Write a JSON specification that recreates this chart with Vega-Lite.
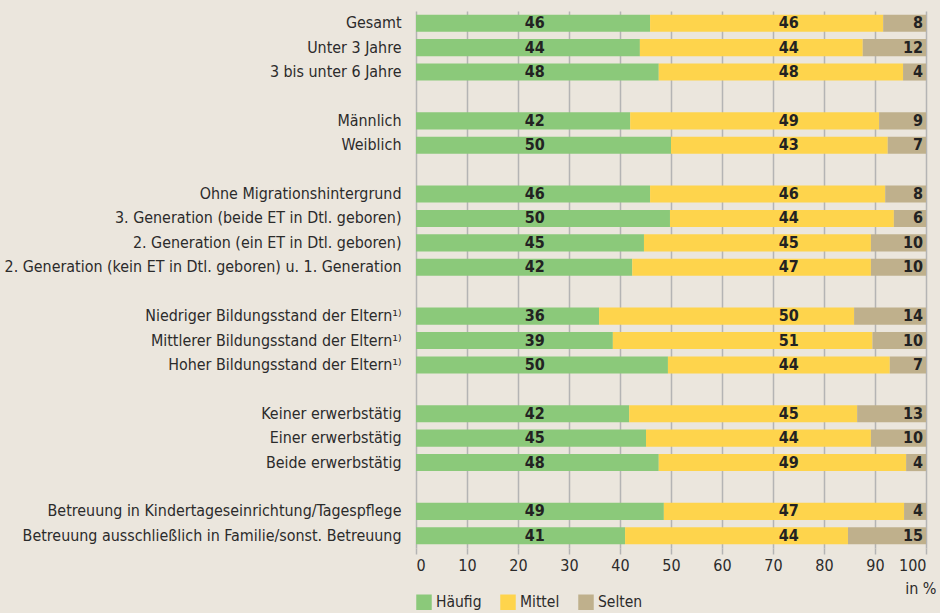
{
  "$schema": "https://vega.github.io/schema/vega-lite/v6.json",
  "width": 510,
  "height": 537,
  "autosize": {"type": "none"},
  "padding": {"left": 416, "top": 11, "right": 14, "bottom": 65},
  "background": "#ebe6dd",
  "config": {
    "view": {"stroke": null},
    "font": "DejaVu Sans Condensed, Noto Sans",
    "axis": {"labelFont": "DejaVu Sans Condensed, Noto Sans", "labelColor": "#2b2b2b", "labelFontSize": 16}
  },
  "data": {
    "values": [
      {"cat": "Gesamt", "typ": "Häufig", "v": 45.9, "lab": 46},
      {"cat": "Gesamt", "typ": "Mittel", "v": 45.7, "lab": 46},
      {"cat": "Gesamt", "typ": "Selten", "v": 8.4, "lab": 8},
      {"cat": "Unter 3 Jahre", "typ": "Häufig", "v": 43.9, "lab": 44},
      {"cat": "Unter 3 Jahre", "typ": "Mittel", "v": 43.7, "lab": 44},
      {"cat": "Unter 3 Jahre", "typ": "Selten", "v": 12.4, "lab": 12},
      {"cat": "3 bis unter 6 Jahre", "typ": "Häufig", "v": 47.6, "lab": 48},
      {"cat": "3 bis unter 6 Jahre", "typ": "Mittel", "v": 47.9, "lab": 48},
      {"cat": "3 bis unter 6 Jahre", "typ": "Selten", "v": 4.5, "lab": 4},
      {"cat": "Männlich", "typ": "Häufig", "v": 42.0, "lab": 42},
      {"cat": "Männlich", "typ": "Mittel", "v": 48.8, "lab": 49},
      {"cat": "Männlich", "typ": "Selten", "v": 9.2, "lab": 9},
      {"cat": "Weiblich", "typ": "Häufig", "v": 50.0, "lab": 50},
      {"cat": "Weiblich", "typ": "Mittel", "v": 42.5, "lab": 43},
      {"cat": "Weiblich", "typ": "Selten", "v": 7.5, "lab": 7},
      {"cat": "Ohne Migrationshintergrund", "typ": "Häufig", "v": 45.9, "lab": 46},
      {"cat": "Ohne Migrationshintergrund", "typ": "Mittel", "v": 46.1, "lab": 46},
      {"cat": "Ohne Migrationshintergrund", "typ": "Selten", "v": 8.0, "lab": 8},
      {"cat": "3. Generation (beide ET in Dtl. geboren)", "typ": "Häufig", "v": 49.8, "lab": 50},
      {"cat": "3. Generation (beide ET in Dtl. geboren)", "typ": "Mittel", "v": 43.9, "lab": 44},
      {"cat": "3. Generation (beide ET in Dtl. geboren)", "typ": "Selten", "v": 6.3, "lab": 6},
      {"cat": "2. Generation (ein ET in Dtl. geboren)", "typ": "Häufig", "v": 44.7, "lab": 45},
      {"cat": "2. Generation (ein ET in Dtl. geboren)", "typ": "Mittel", "v": 44.5, "lab": 45},
      {"cat": "2. Generation (ein ET in Dtl. geboren)", "typ": "Selten", "v": 10.8, "lab": 10},
      {"cat": "2. Generation (kein ET in Dtl. geboren) u. 1. Generation", "typ": "Häufig", "v": 42.4, "lab": 42},
      {"cat": "2. Generation (kein ET in Dtl. geboren) u. 1. Generation", "typ": "Mittel", "v": 46.8, "lab": 47},
      {"cat": "2. Generation (kein ET in Dtl. geboren) u. 1. Generation", "typ": "Selten", "v": 10.8, "lab": 10},
      {"cat": "Niedriger Bildungsstand der Eltern¹⁾", "typ": "Häufig", "v": 35.9, "lab": 36},
      {"cat": "Niedriger Bildungsstand der Eltern¹⁾", "typ": "Mittel", "v": 50.0, "lab": 50},
      {"cat": "Niedriger Bildungsstand der Eltern¹⁾", "typ": "Selten", "v": 14.1, "lab": 14},
      {"cat": "Mittlerer Bildungsstand der Eltern¹⁾", "typ": "Häufig", "v": 38.6, "lab": 39},
      {"cat": "Mittlerer Bildungsstand der Eltern¹⁾", "typ": "Mittel", "v": 50.9, "lab": 51},
      {"cat": "Mittlerer Bildungsstand der Eltern¹⁾", "typ": "Selten", "v": 10.5, "lab": 10},
      {"cat": "Hoher Bildungsstand der Eltern¹⁾", "typ": "Häufig", "v": 49.4, "lab": 50},
      {"cat": "Hoher Bildungsstand der Eltern¹⁾", "typ": "Mittel", "v": 43.5, "lab": 44},
      {"cat": "Hoher Bildungsstand der Eltern¹⁾", "typ": "Selten", "v": 7.1, "lab": 7},
      {"cat": "Keiner erwerbstätig", "typ": "Häufig", "v": 41.8, "lab": 42},
      {"cat": "Keiner erwerbstätig", "typ": "Mittel", "v": 44.7, "lab": 45},
      {"cat": "Keiner erwerbstätig", "typ": "Selten", "v": 13.5, "lab": 13},
      {"cat": "Einer erwerbstätig", "typ": "Häufig", "v": 45.1, "lab": 45},
      {"cat": "Einer erwerbstätig", "typ": "Mittel", "v": 44.1, "lab": 44},
      {"cat": "Einer erwerbstätig", "typ": "Selten", "v": 10.8, "lab": 10},
      {"cat": "Beide erwerbstätig", "typ": "Häufig", "v": 47.6, "lab": 48},
      {"cat": "Beide erwerbstätig", "typ": "Mittel", "v": 48.5, "lab": 49},
      {"cat": "Beide erwerbstätig", "typ": "Selten", "v": 3.9, "lab": 4},
      {"cat": "Betreuung in Kindertageseinrichtung/Tagespflege", "typ": "Häufig", "v": 48.6, "lab": 49},
      {"cat": "Betreuung in Kindertageseinrichtung/Tagespflege", "typ": "Mittel", "v": 47.1, "lab": 47},
      {"cat": "Betreuung in Kindertageseinrichtung/Tagespflege", "typ": "Selten", "v": 4.3, "lab": 4},
      {"cat": "Betreuung ausschließlich in Familie/sonst. Betreuung", "typ": "Häufig", "v": 41.0, "lab": 41},
      {"cat": "Betreuung ausschließlich in Familie/sonst. Betreuung", "typ": "Mittel", "v": 43.7, "lab": 44},
      {"cat": "Betreuung ausschließlich in Familie/sonst. Betreuung", "typ": "Selten", "v": 15.3, "lab": 15}
    ]
  },
  "encoding": {
    "y": {
      "field": "cat",
      "type": "nominal",
      "sort": null,
      "scale": {
        "domain": [
          "Gesamt", "Unter 3 Jahre", "3 bis unter 6 Jahre", "gap1",
          "Männlich", "Weiblich", "gap2",
          "Ohne Migrationshintergrund", "3. Generation (beide ET in Dtl. geboren)", "2. Generation (ein ET in Dtl. geboren)", "2. Generation (kein ET in Dtl. geboren) u. 1. Generation", "gap3",
          "Niedriger Bildungsstand der Eltern¹⁾", "Mittlerer Bildungsstand der Eltern¹⁾", "Hoher Bildungsstand der Eltern¹⁾", "gap4",
          "Keiner erwerbstätig", "Einer erwerbstätig", "Beide erwerbstätig", "gap5",
          "Betreuung in Kindertageseinrichtung/Tagespflege", "Betreuung ausschließlich in Familie/sonst. Betreuung"
        ],
        "paddingInner": 0.3,
        "paddingOuter": 0.15
      },
      "axis": {
        "title": null,
        "domain": false,
        "ticks": false,
        "labelPadding": 15,
        "labelLimit": 600,
        "labelFontSize": 15.9,
        "labelExpr": "indexof(datum.value, 'gap') == 0 ? '' : datum.value"
      }
    }
  },
  "layer": [
    {
      "mark": {"type": "bar"},
      "encoding": {
        "x": {
          "field": "v",
          "type": "quantitative",
          "stack": "zero",
          "scale": {"domain": [0, 100], "nice": false},
          "axis": {
            "values": [0, 10, 20, 30, 40, 50, 60, 70, 80, 90, 100],
            "grid": true,
            "gridColor": "#b4b4b4",
            "gridWidth": 1.5,
            "domain": false,
            "tickColor": "#b4b4b4",
            "tickWidth": 1.5,
            "tickSize": 6,
            "labelPadding": 3,
            "title": "in %",
            "titleFont": "DejaVu Sans Condensed, Noto Sans",
            "titleFontSize": 16,
            "titleFontWeight": "normal",
            "titleColor": "#2b2b2b",
            "titleAnchor": "end",
            "titleAlign": "right",
            "titleX": 520,
            "titlePadding": 7
          }
        },
        "color": {
          "field": "typ",
          "type": "nominal",
          "scale": {"domain": ["Häufig", "Mittel", "Selten"], "range": ["#8bc97a", "#fed44c", "#bfb08c"]},
          "legend": {
            "title": null,
            "orient": "bottom",
            "direction": "horizontal",
            "symbolType": "square",
            "symbolSize": 240,
            "symbolStrokeWidth": 0,
            "symbolOpacity": 1,
            "labelFontSize": 15.5,
            "labelColor": "#2b2b2b",
            "labelFont": "DejaVu Sans Condensed, Noto Sans",
            "columnPadding": 18,
            "offset": -2,
            "padding": 0
          }
        }
      }
    },
    {
      "transform": [{"filter": "datum.typ == 'Häufig'"}],
      "mark": {"type": "text", "fontWeight": "bold", "fontSize": 16, "color": "#222222", "align": "center", "baseline": "middle"},
      "encoding": {"x": {"datum": 23.3}, "text": {"field": "lab"}}
    },
    {
      "transform": [{"filter": "datum.typ == 'Mittel'"}],
      "mark": {"type": "text", "fontWeight": "bold", "fontSize": 16, "color": "#222222", "align": "center", "baseline": "middle"},
      "encoding": {"x": {"datum": 73.1}, "text": {"field": "lab"}}
    },
    {
      "transform": [{"filter": "datum.typ == 'Selten'"}],
      "mark": {"type": "text", "fontWeight": "bold", "fontSize": 16, "color": "#222222", "align": "right", "baseline": "middle", "dx": -3},
      "encoding": {"x": {"datum": 100}, "text": {"field": "lab"}}
    }
  ]
}
